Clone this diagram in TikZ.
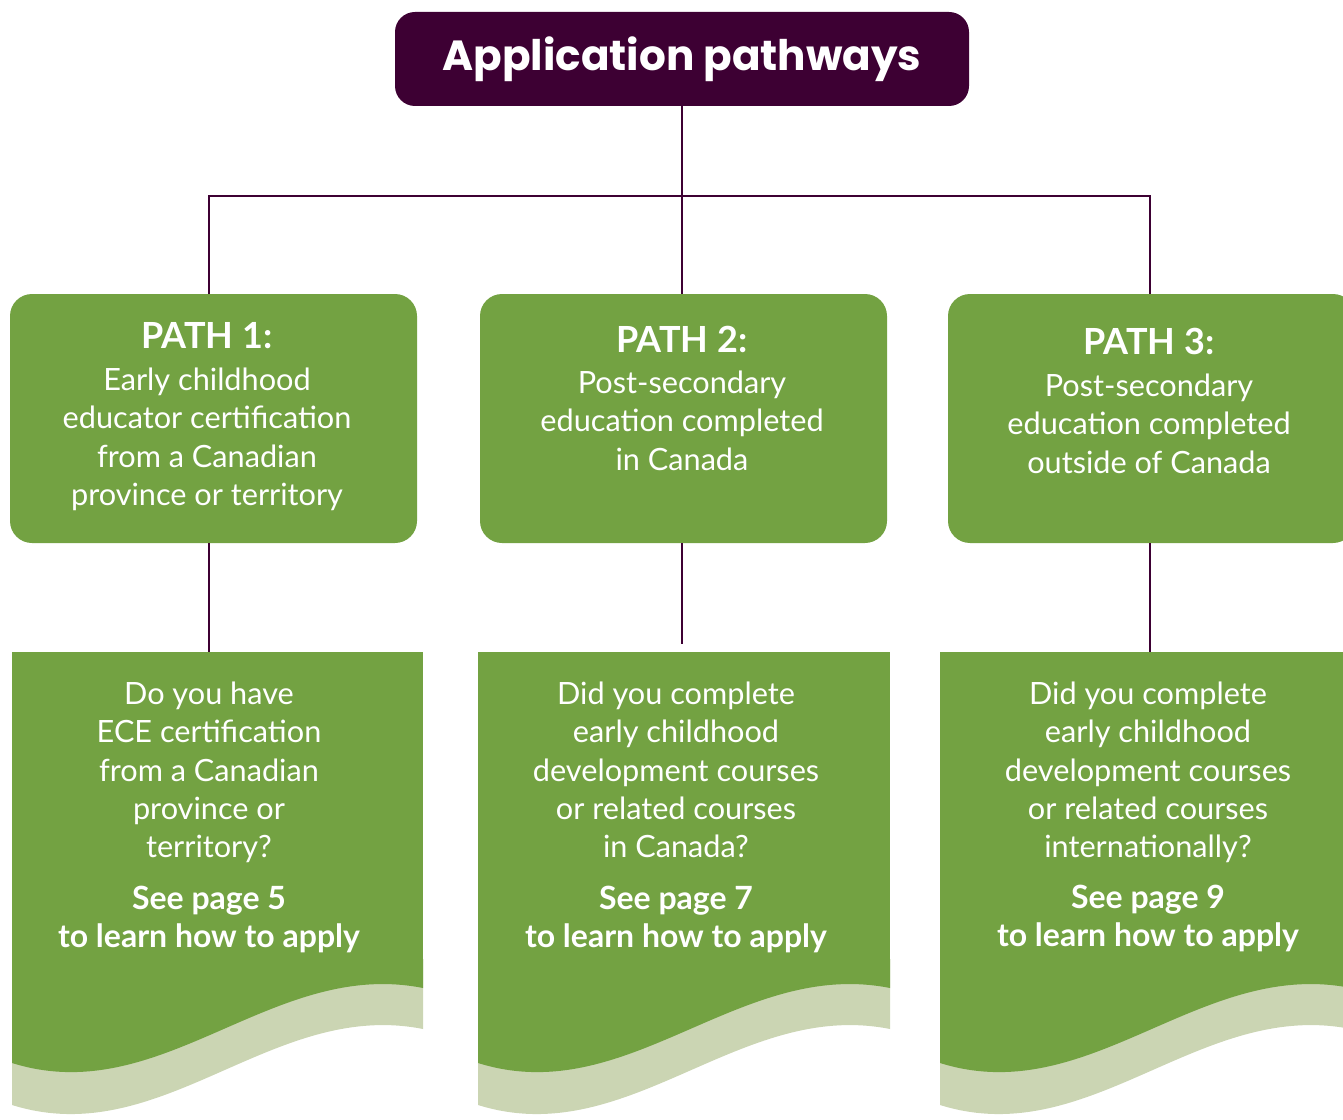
\documentclass[tikz,border=0pt]{standalone}
\usepackage{fontspec}
\setmainfont{Lato}
\newfontfamily\titlefont{Poppins}
\usetikzlibrary{positioning}
\definecolor{plum}{HTML}{3D0033}
\definecolor{leaf}{HTML}{73A242}
\definecolor{sage}{HTML}{CBD5B3}

\begin{document}
\begin{tikzpicture}[x=0.75pt,y=-0.75pt]
    \tikzstyle{every node}=[inner sep=0,outer sep=0,text=white]
    \tikzstyle{head}=[fill=plum,rounded corners=15pt,minimum width=430.5pt,minimum height=70.5pt]
    \tikzstyle{pathbox}=[fill=leaf,rounded corners=16.5pt,minimum width=305.25pt,minimum height=186.75pt]
    \tikzstyle{askbox}=[fill=leaf,anchor=north,minimum height=231pt]
    \tikzstyle{pathhead}=[anchor=north,font=\bfseries\fontsize{27}{32}\selectfont]
    \tikzstyle{body}=[anchor=north,align=center,font=\fontsize{23}{28.7}\selectfont]
    \tikzstyle{seepage}=[anchor=north,align=center,font=\bfseries\fontsize{24}{28.7}\selectfont]
    \tikzstyle{link}=[draw=plum,line width=1.5pt]

    \useasboundingbox (0,0) rectangle (1343,1120);
    \clip (0,0) rectangle (1343,1120);

    % title and the three paths
    \node[head] (title) at (682,59) {\titlefont\bfseries\fontsize{31.6}{36}\selectfont Application pathways};
    \node[pathbox] (p1) at (213.5,418.5) {};
    \node[pathbox] (p2) at (683.5,418.5) {};
    \node[pathbox] (p3) at (1151.5,418.5) {};
    \coordinate (bus) at (682,196);
    \coordinate (c1) at (209,196);
    \coordinate (c3) at (1150,196);

    % question boxes, with the wavy foot below
    \node[askbox,minimum width=308.25pt] (q1) at (217.5,652) {};
    \node[askbox,minimum width=309pt] (q2) at (684,652) {};
    \node[askbox,minimum width=308.25pt] (q3) at (1145.5,652) {};
    \foreach \x/\w in {12/411,478/412,940/411} {
        \fill[sage] (\x,959) -- (\x,1105) .. controls +(150,47) and +(-151,-30) .. (\x+\w,1029) -- (\x+\w,959) -- cycle;
        \fill[leaf] (\x,959) -- (\x,1063) .. controls +(150,47) and +(-151,-30) .. (\x+\w,988) -- (\x+\w,959) -- cycle;
    }

    % connectors
    \draw[link] (title.south) -- (title.south |- p2.north);
    \draw[link] (p1.north -| c1) |- (bus) -| (p3.north -| c3);
    \draw[link] (p1.south -| c1) -- (q1.north -| c1);
    \draw[link,shorten >=6pt] (p2.south -| bus) -- (q2.north -| bus);
    \draw[link] (p3.south -| c3) -- (q3.north -| c3);

    % texts
    \node[pathhead] (h1) at (207,322) {PATH 1:};
    \node[body] (t1) at (207,368) {Early childhood\\educator certification\\from a Canadian\\province or territory};
    \node[pathhead] (h2) at (682,326) {PATH 2:};
    \node[body] (t2) at (682,371) {Post-secondary\\education completed\\in Canada};
    \node[pathhead] (h3) at (1149,328) {PATH 3:};
    \node[body] (t3) at (1149,374) {Post-secondary\\education completed\\outside of Canada};

    \node[body] (a1) at (209,682) {Do you have\\ECE certification\\from a Canadian\\province or\\territory?};
    \node[seepage] (s1) at (209,886) {See page 5\\to learn how to apply};
    \node[body] (a2) at (676,682) {Did you complete\\early childhood\\development courses\\or related courses\\in Canada?};
    \node[seepage] (s2) at (676,886) {See page 7\\to learn how to apply};
    \node[body] (a3) at (1148,682) {Did you complete\\early childhood\\development courses\\or related courses\\internationally?};
    \node[seepage] (s3) at (1148,885) {See page 9\\to learn how to apply};
\end{tikzpicture}
\end{document}
